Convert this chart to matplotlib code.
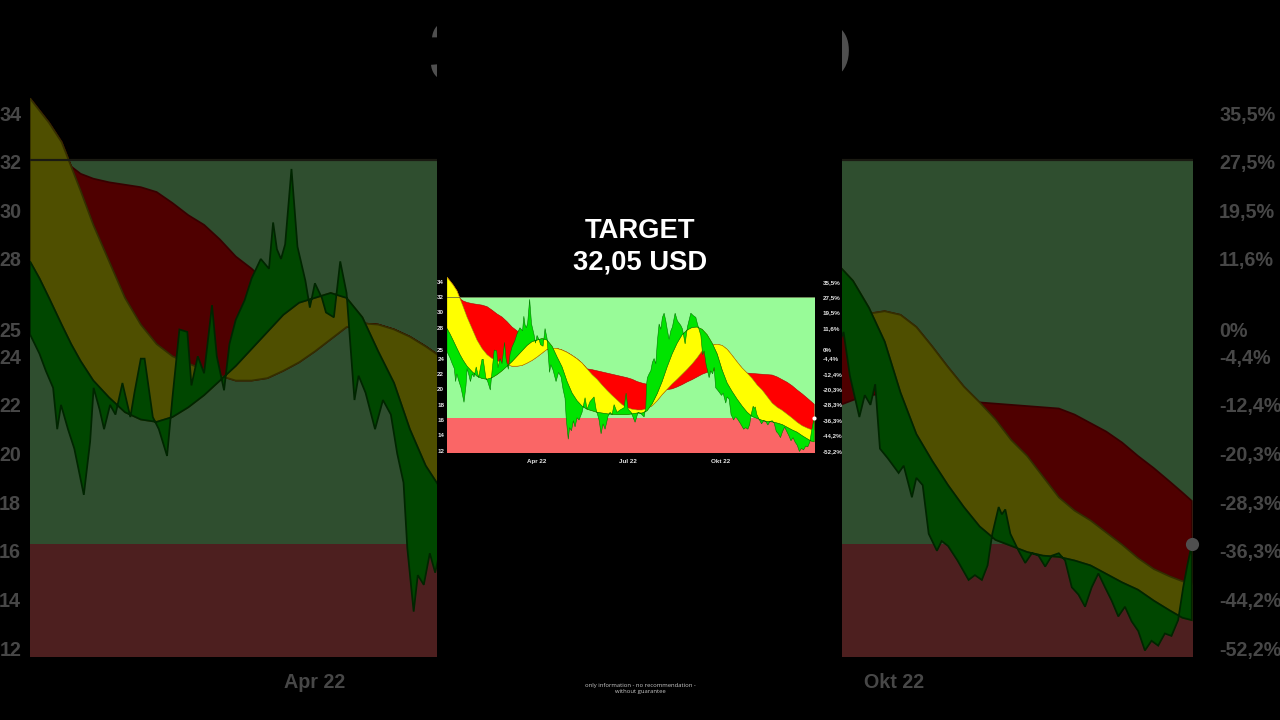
import numpy as np
import pandas as pd
import matplotlib
matplotlib.use("Agg")
import matplotlib.pyplot as plt
import matplotlib.dates as mdates
from matplotlib.patches import Rectangle

# -------------------------
# data (days counted from 1 Jan 2022)
# -------------------------
start = pd.Timestamp("2022-01-01")

price_days = [0, 3, 5, 7.3, 8.6, 9.8, 12, 14, 17, 19, 20.1, 22, 23.4, 25.3, 27, 29.2, 31.7, 33, 35, 36.2,
              38.8, 40.7, 43.3, 45, 47.2, 49.7, 51, 53, 55, 57.5, 59, 61.3, 63, 65, 67.8, 70, 72.9, 75.5,
              76.8, 78, 79.3, 80.6, 82.6, 84.5, 87, 88.4, 90, 92.2, 93.5, 96, 98, 100, 102.5, 103.8, 106,
              109, 111.5, 114, 116, 118, 119.2, 121.2, 122.5, 124.4, 126.3, 128, 130, 132, 135, 138, 140,
              143, 147, 149, 152, 154, 156, 158, 161, 163, 165, 167, 170, 173, 177, 179, 181, 184, 188,
              191, 194, 197, 198.7, 199.5, 200.3, 202, 203.7, 205.3, 207, 208.7, 210.3, 212, 213.7, 215.3,
              217, 218.7, 220.5, 222, 223.7, 225.3, 228, 230.3, 233.7, 235.3, 238, 240.3, 243.7, 246,
              248.7, 250.3, 253.7, 255.5, 257, 259, 262, 263.7, 265.5, 267, 268.5, 271, 274.4, 276,
              278.6, 280, 282, 283.9, 286.5, 288, 290, 293, 296.5, 298.5, 300.7, 302.5, 304, 306, 307,
              308.1, 309.7, 312.3, 314.4, 316.5, 318.6, 320.7, 322.8, 325, 327, 329.1, 331.2, 333.3,
              335.4, 337.5, 339.6, 341.7, 343.8, 345.9, 348, 350.1, 352.2, 354.3, 356.4, 358.5, 360.6,
              362.7, 364.3, 365.6, 367]
price = [24.9, 24.1, 23.4, 22.7, 21.0, 22.0, 21.0, 20.2, 18.3, 20.5, 22.7, 21.8, 21.0, 22.0, 21.6, 22.9,
         21.5, 22.5, 23.9, 23.9, 21.5, 21.0, 19.9, 22.3, 25.1, 25.0, 22.8, 24.0, 23.3, 26.1, 24.0, 22.6,
         24.5, 25.5, 26.3, 27.2, 28.0, 27.6, 29.5, 28.4, 28.0, 28.6, 31.7, 28.5, 27.1, 26.0, 27.0, 26.4,
         25.8, 25.6, 27.9, 26.6, 22.2, 23.2, 22.5, 21.0, 22.2, 21.6, 20.0, 18.8, 16.1, 13.5, 15.0, 14.6,
         15.9, 15.1, 16.3, 16.0, 17.0, 18.9, 17.4, 18.4, 19.0, 17.4, 16.0, 14.2, 15.5, 14.8, 16.5, 17.0,
         16.7, 18.0, 17.0, 17.3, 17.6, 19.5, 17.4, 17.0, 15.7, 17.0, 16.8, 16.4, 17.6, 20.7, 21.5, 22.0,
         22.4, 23.5, 24.0, 23.3, 26.3, 28.5, 27.8, 29.35, 29.9, 28.9, 27.5, 26.5, 27.6, 28.1, 29.9, 28.9,
         28.3, 27.85, 25.9, 28.1, 29.9, 29.6, 29.35, 28.5, 27.0, 24.5, 25.0, 23.2, 21.5, 22.4, 22.0,
         22.85, 20.2, 19.8, 19.2, 19.5, 18.2, 19.0, 18.7, 16.7, 16.0, 16.4, 16.2, 15.6, 14.8, 15.0, 14.8,
         15.4, 16.7, 17.8, 17.5, 17.7, 16.7, 16.0, 15.5, 15.9, 15.8, 15.35, 15.8, 15.9, 15.6, 14.5, 14.2,
         13.7, 14.5, 15.07, 14.5, 13.95, 13.3, 13.7, 13.1, 12.7, 11.9, 12.3, 12.1, 12.6, 12.5, 13.15,
         14.5, 15.4, 16.27]

# the three averages share one day grid
ma_days = [0, 3, 6, 10, 13, 16, 20, 25, 30, 35, 40, 45, 50, 55, 60, 65, 70, 75, 80, 85, 90, 95, 100,
           105, 110, 115, 120, 125, 130, 135, 140, 145, 150, 155, 160, 165, 170, 175, 180, 185, 190,
           195, 200, 205, 210, 215, 220, 225, 230, 235, 240, 245, 250, 255, 260, 265, 270, 275, 280,
           285, 290, 295, 300, 305, 310, 315, 320, 325, 330, 335, 340, 345, 350, 355, 360, 364, 367]
ma_fast = [27.9, 27.2, 26.4, 25.3, 24.5, 23.8, 23.0, 22.3, 21.7, 21.4, 21.3, 21.5, 21.9, 22.4, 23.0,
           23.6, 24.3, 25.0, 25.7, 26.2, 26.4, 26.6, 26.4, 25.6, 24.2, 22.9, 21.0, 19.5, 18.5, 17.8,
           17.4, 17.2, 17.0, 16.9, 16.8, 16.75, 16.7, 16.7, 16.7, 16.8, 16.9, 16.9, 17.2, 18.1, 19.4,
           21.0, 22.9, 24.6, 26.0, 27.1, 27.7, 28.05, 28.1, 27.8, 27.1, 26.0, 24.6, 22.5, 20.8, 19.7,
           18.7, 17.8, 17.0, 16.45, 16.2, 15.95, 15.8, 15.75, 15.6, 15.4, 15.05, 14.7, 14.4, 13.95,
           13.55, 13.25, 13.15]
ma_mid = [34.6, 34.1, 33.6, 32.8, 31.8, 30.8, 29.4, 27.9, 26.4, 25.3, 24.5, 24.0, 23.7, 23.45, 23.2,
          23.0, 23.0, 23.1, 23.4, 23.75, 24.2, 24.7, 25.2, 25.35, 25.3, 25.1, 24.8, 24.4, 23.95, 23.4,
          22.65, 21.9, 21.3, 20.55, 19.85, 19.2, 18.6, 18.0, 17.6, 17.4, 17.3, 17.3, 17.5, 17.85, 18.5,
          19.3, 20.0, 20.7, 21.3, 21.95, 22.6, 23.3, 24.1, 25.0, 25.5, 25.75, 25.85, 25.7, 25.2, 24.4,
          23.55, 22.75, 22.1, 21.4, 20.55, 19.9, 19.05, 18.2, 17.65, 17.25, 16.75, 16.25, 15.7, 15.25,
          14.95, 14.75, 14.65]
ma_slow = [34.6, 34.1, 33.6, 32.8, 31.8, 31.5, 31.3, 31.15, 31.05, 30.95, 30.75, 30.3, 29.8, 29.4,
           28.8, 28.1, 27.6, 27.0, 26.4, 25.9, 25.4, 25.0, 25.2, 25.35, 25.3, 25.1, 24.8, 24.4, 23.95,
           23.4, 22.65, 22.55, 22.4, 22.25, 22.1, 21.95, 21.8, 21.65, 21.5, 21.3, 21.0, 20.8, 20.65,
           20.45, 20.25, 20.05, 19.95, 20.05, 20.3, 20.6, 20.95, 21.25, 21.6, 21.95, 22.2, 22.4, 22.45,
           22.45, 22.4, 22.3, 22.2, 22.15, 22.1, 22.05, 22.0, 21.95, 21.9, 21.85, 21.6, 21.25, 20.9,
           20.45, 19.9, 19.4, 18.85, 18.4, 18.05]

target = 32.05
base_price = 25.1
y_ticks = [12, 14, 16, 18, 20, 22, 24, 25.1, 28, 30, 32, 34]
month_ticks = ["2022-04-01", "2022-07-01", "2022-10-01"]
month_labels = ["Apr 22", "Jul 22", "Okt 22"]

title_1 = "TARGET"
title_2 = "32,05 USD"
footer = "only information - no recommendation -\nwithout guarantee"

# colours
BAND_GREEN = "#98fb98"
BAND_RED = "#fa6666"
GREEN = "#00e400"
YELLOW = "#ffff00"
RED = "#ff0000"
Y_MIN, Y_MAX = 11.65, 35.0


def to_x(days):
    return mdates.date2num(start + pd.to_timedelta(np.asarray(days, dtype=float), unit="D"))


xp = to_x(price_days)
xm = to_x(ma_days)
yp = np.array(price)
y1 = np.array(ma_fast)
y2 = np.array(ma_mid)
y3 = np.array(ma_slow)
last_price = yp[-1]


def band(ax, xa, ya, xb, yb, color, edge, lw, z):
    # polygon between two curves (may have different x samples)
    ax.fill(np.r_[xa, xb[::-1]], np.r_[ya, yb[::-1]], facecolor=color,
            edgecolor=edge, linewidth=lw, zorder=z)


def draw_chart(ax, s):
    ax.set_facecolor("black")
    ax.axhspan(Y_MIN, last_price, color=BAND_RED, lw=0, zorder=0.5)
    ax.axhspan(last_price, target, color=BAND_GREEN, lw=0, zorder=0.5)

    band(ax, xm, y2, xm, y3, RED, "#b00000", 0.4 * s, 1)
    band(ax, xm, y1, xm, y2, YELLOW, "#a89800", 0.4 * s, 2)
    band(ax, xp, yp, xm, y1, GREEN, "#007800", 0.4 * s, 3)

    ax.axhline(target, color="#56563c", lw=0.5 * s, zorder=4)
    ax.plot(xp[-1], yp[-1], "o", color="white", ms=3 * s, mew=0, clip_on=False, zorder=5)

    ax.set_xlim(to_x(0), to_x(367.3))
    ax.set_ylim(Y_MIN, Y_MAX)
    for sp in ax.spines.values():
        sp.set_visible(False)

    ax.set_xticks(mdates.date2num(pd.to_datetime(month_ticks)))
    ax.set_xticklabels(month_labels)
    ax.set_yticks(y_ticks)
    ax.set_yticklabels([f"{v:.0f}" for v in y_ticks])
    ax.tick_params(axis="x", length=0, pad=3.7 * s, labelsize=4.5 * s, colors="#e6e6e6")
    ax.tick_params(axis="y", length=0, pad=2.0 * s, labelsize=4.5 * s, colors="#e6e6e6")

    # right axis: change versus base price
    rx = ax.twinx()
    rx.set_ylim(Y_MIN, Y_MAX)
    rx.set_yticks(y_ticks)
    pct = []
    for v in y_ticks:
        p = (v / base_price - 1) * 100
        pct.append("0%" if abs(p) < 0.05 else f"{p:.1f}%".replace(".", ","))
    rx.set_yticklabels(pct)
    rx.tick_params(axis="y", length=0, pad=6.0 * s, labelsize=4.5 * s, colors="#e6e6e6")
    for sp in rx.spines.values():
        sp.set_visible(False)
    for lab in ax.get_xticklabels() + ax.get_yticklabels() + rx.get_yticklabels():
        lab.set_fontfamily("Liberation Sans")
        lab.set_fontweight("bold")
    return rx


W, H = 1280, 720
fig = plt.figure(figsize=(12.8, 7.2), dpi=100, facecolor="black")

# enlarged, dimmed copy of the chart behind the portrait panel
S = 3.166
bg = fig.add_axes([30 / W, 1 - 656.6 / H, 1162.7 / W, (656.6 - 88.7) / H])
bg_r = draw_chart(bg, S)
bg.set_zorder(0)
bg_r.set_zorder(0.1)
# the July label of the big copy sits behind the portrait panel anyway
bg.get_xticklabels()[1].set_visible(False)
fig.text(641 / W, 1 - 80 / H, title_2, ha="center", va="baseline", color="white",
         fontsize=19.7 * S, fontweight="bold", family="Liberation Sans", zorder=0.2)
fig.add_artist(Rectangle((0, 0), 1, 1, transform=fig.transFigure, facecolor="black",
                         alpha=0.69, lw=0, zorder=1))

# portrait panel
fig.add_artist(Rectangle((437 / W, 0), (842 - 437) / W, 1, transform=fig.transFigure,
                         facecolor="black", lw=0, zorder=2))

ax = fig.add_axes([447 / W, 1 - 453.4 / H, 367.5 / W, (453.4 - 274.0) / H])
ax_r = draw_chart(ax, 1.0)
ax.set_zorder(3)
ax_r.set_zorder(3.1)

fig.text(0.5, 1 - 238 / H, title_1, ha="center", va="baseline", color="white",
         fontsize=19.7, fontweight="bold", family="Liberation Sans", zorder=4)
fig.text(0.5, 1 - 270 / H, title_2, ha="center", va="baseline", color="white",
         fontsize=19.7, fontweight="bold", family="Liberation Sans", zorder=4)
fig.text(0.5, 1 - 688.5 / H, footer, ha="center", va="center", multialignment="center",
         color="#c8c8c8", fontsize=4.2, linespacing=1.15, family="Open Sans", zorder=4)

fig.savefig("out.png", dpi=100, facecolor="black")
